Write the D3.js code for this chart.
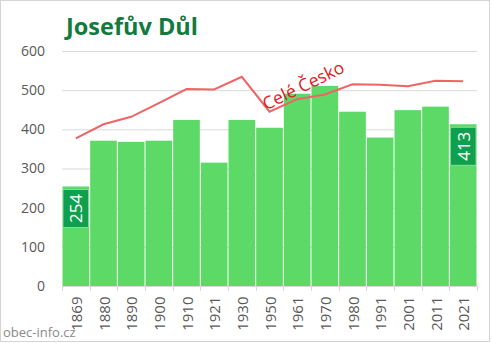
<!DOCTYPE html>
<html>
<head>
<meta charset="utf-8">
<script src="https://cdn.jsdelivr.net/npm/d3@7"></script>
<style>
  body { margin: 0; background: #fff; }
  svg { display: block; font-family: "Open Sans", sans-serif; }
</style>
</head>
<body>
<script>
// census years and population of the village
var years = ["1869", "1880", "1890", "1900", "1910", "1921", "1930", "1950",
             "1961", "1970", "1980", "1991", "2001", "2011", "2021"];
var population = [254, 371, 368, 371, 424, 315, 424, 404, 491, 511, 445, 379, 449, 458, 413];
// whole country trend, rescaled onto the same axis
var czechia = [377, 413, 432, 467, 503, 502, 534, 445, 477, 489, 515, 514, 510, 524, 523];
var yTicks = [0, 100, 200, 300, 400, 500, 600];
// first and last values get a label box
var labelled = ["1869", "2021"];

var width = 492,
    height = 343;

var svg = d3.select("body")
    .append("svg")
    .attr("width", width)
    .attr("height", height);

// frame
svg.append("rect")
    .attr("x", 0.5).attr("y", 0.5)
    .attr("width", 489).attr("height", 341)
    .attr("fill", "none")
    .attr("stroke", "#d4d4d4");

var x = d3.scaleBand()
    .domain(years)
    .range([62, 477])
    .padding(0);

var y = d3.scaleLinear()
    .domain([0, 600])
    .range([286, 51]);

// gridlines + y labels
var yAxis = svg.append("g")
    .attr("transform", "translate(62,0)")
    .call(d3.axisLeft(y).tickValues(yTicks).tickSize(-415).tickPadding(17));
yAxis.select(".domain").remove();
yAxis.selectAll(".tick line").attr("stroke", "#d9d9d9");
yAxis.selectAll(".tick text")
    .attr("fill", "#595959")
    .style("font-size", "14px")
    .style("font-family", "'Open Sans', sans-serif");

// bars
svg.append("g")
    .selectAll("rect")
    .data(population)
    .enter()
    .append("rect")
    .attr("x", function(d, i){ return x(years[i]) + 0.5; })
    .attr("y", function(d){ return y(d); })
    .attr("width", x.bandwidth() - 1)
    .attr("height", function(d){ return y(0) - y(d); })
    .attr("fill", "#5dd967");

// x axis line with ticks on the category boundaries
var xg = svg.append("g");
xg.append("line")
    .attr("x1", 62).attr("x2", 477)
    .attr("y1", 286.5).attr("y2", 286.5)
    .attr("stroke", "#d9d9d9");
xg.selectAll("line.tk")
    .data(years.concat(["end"]))
    .enter()
    .append("line")
    .attr("class", "tk")
    .attr("x1", function(d, i){ return Math.round(62 + i * x.bandwidth()) + 0.5; })
    .attr("x2", function(d, i){ return Math.round(62 + i * x.bandwidth()) + 0.5; })
    .attr("y1", 286).attr("y2", 291)
    .attr("stroke", "#d9d9d9");
xg.selectAll("text")
    .data(years)
    .enter()
    .append("text")
    .attr("transform", function(d){
        return "translate(" + (x(d) + x.bandwidth() / 2) + ",296.5) rotate(-90)";
    })
    .attr("text-anchor", "end")
    .attr("dominant-baseline", "central")
    .attr("fill", "#595959")
    .style("font-size", "15px")
    .text(function(d){ return d; });

// country trend line
var line = d3.line()
    .x(function(d, i){ return x(years[i]) + x.bandwidth() / 2; })
    .y(function(d){ return y(d); });

svg.append("path")
    .datum(czechia)
    .attr("d", line)
    .attr("fill", "none")
    .attr("stroke", "#ef6464")
    .attr("stroke-width", 2);

svg.append("text")
    .attr("transform", "translate(306,91) rotate(-26)")
    .attr("text-anchor", "middle")
    .attr("fill", "#e3161c")
    .style("font-size", "17.5px")
    .text("Celé Česko");

// value boxes on first and last bar
var boxes = svg.append("g")
    .selectAll("g")
    .data(years.filter(function(d){ return labelled.indexOf(d) >= 0; }))
    .enter()
    .append("g");

boxes.append("rect")
    .attr("x", function(d){ return x(d) + 1; })
    .attr("y", function(d){ return y(population[years.indexOf(d)]) + 3; })
    .attr("width", x.bandwidth() - 2)
    .attr("height", 38)
    .attr("fill", "#0fa04f")
    .attr("stroke", "#9be3a8")
    .attr("stroke-width", 0.8);

boxes.append("text")
    .attr("transform", function(d){
        var cx = x(d) + x.bandwidth() / 2,
            cy = y(population[years.indexOf(d)]) + 22;
        return "translate(" + cx + "," + cy + ") rotate(-90)";
    })
    .attr("text-anchor", "middle")
    .attr("dominant-baseline", "central")
    .attr("fill", "#fff")
    .style("font-size", "17px")
    .text(function(d){ return population[years.indexOf(d)]; });

// title
svg.append("text")
    .attr("x", 66)
    .attr("y", 35)
    .attr("fill", "#117a3d")
    .style("font-size", "23.5px")
    .style("font-weight", "bold")
    .text("Josefův Důl");

svg.append("text")
    .attr("x", 3)
    .attr("y", 337)
    .attr("fill", "#8a8a8a")
    .style("font-size", "13px")
    .text("obec-info.cz");
</script>
</body>
</html>
